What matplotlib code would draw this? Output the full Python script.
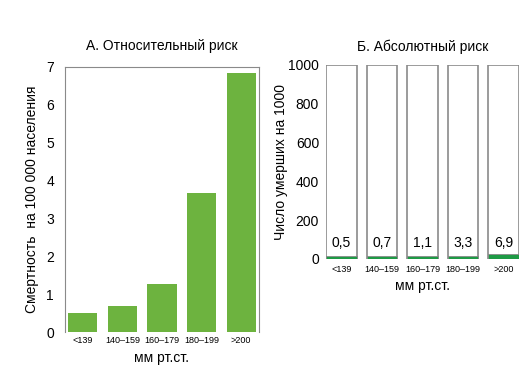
import matplotlib.pyplot as plt
import numpy as np

plt.rcParams['font.family'] = ['Liberation Sans', 'DejaVu Sans']

groups = ['<139', '140–159', '160–179', '180–199', '>200']
rel_risk = [0.51, 0.70, 1.27, 3.66, 6.84]
abs_labels = ['0,5', '0,7', '1,1', '3,3', '6,9']
abs_total = [1000, 1000, 1000, 1000, 1000]
abs_green = [16, 16, 16, 16, 24]   # drawn height of green strip, as seen in picture

green_a = '#6db33f'
green_b = '#1e9a45'
frame = '#8a8a8a'

fig = plt.figure(figsize=(5.31, 3.73), dpi=100)

# Panel A
ax1 = fig.add_axes([65 / 531, 1 - 332 / 373, 194 / 531, 265 / 373])
x = np.arange(len(groups))
ax1.bar(x, rel_risk, width=0.74, color=green_a)
ax1.set_xlim(-0.45, 4.45)
ax1.set_ylim(0, 7)
ax1.set_yticks(range(8))
ax1.set_xticks(x)
ax1.set_xticklabels(groups, fontsize=6.5)
ax1.tick_params(axis='y', length=0, labelsize=10, pad=8)
ax1.tick_params(axis='x', length=0, pad=3)
for s in ['left', 'top', 'right']:
    ax1.spines[s].set_color(frame)
ax1.spines['bottom'].set_visible(False)
ax1.set_title('А. Относительный риск', fontsize=10, pad=12)
ax1.set_ylabel('Смертность  на 100 000 населения', fontsize=10, labelpad=5)
ax1.set_xlabel('мм рт.ст.', fontsize=10, labelpad=4)

# Panel B
ax2 = fig.add_axes([326 / 531, 1 - 259 / 373, 193 / 531, 194 / 373])
ax2.bar(x, abs_total, width=0.76, color='white', edgecolor=frame, linewidth=1.2)
ax2.bar(x, abs_green, width=0.76, color=green_b, edgecolor=frame, linewidth=0.6)
for xi, lab in zip(x, abs_labels):
    ax2.text(xi, 45, lab, ha='center', va='bottom', fontsize=10)
ax2.set_xlim(-0.38, 4.38)
ax2.set_ylim(0, 1000)
ax2.set_yticks(range(0, 1001, 200))
ax2.set_xticks(x)
ax2.set_xticklabels(groups, fontsize=6.5)
ax2.tick_params(axis='y', length=0, labelsize=10, pad=5)
ax2.tick_params(axis='x', length=0, pad=4)
for s in ax2.spines.values():
    s.set_visible(False)
ax2.set_title('Б. Абсолютный риск', fontsize=10, pad=10)
ax2.set_ylabel('Число умерших на 1000', fontsize=10, labelpad=0)
ax2.set_xlabel('мм рт.ст.', fontsize=10, labelpad=4)

fig.savefig('out.png', dpi=100)
